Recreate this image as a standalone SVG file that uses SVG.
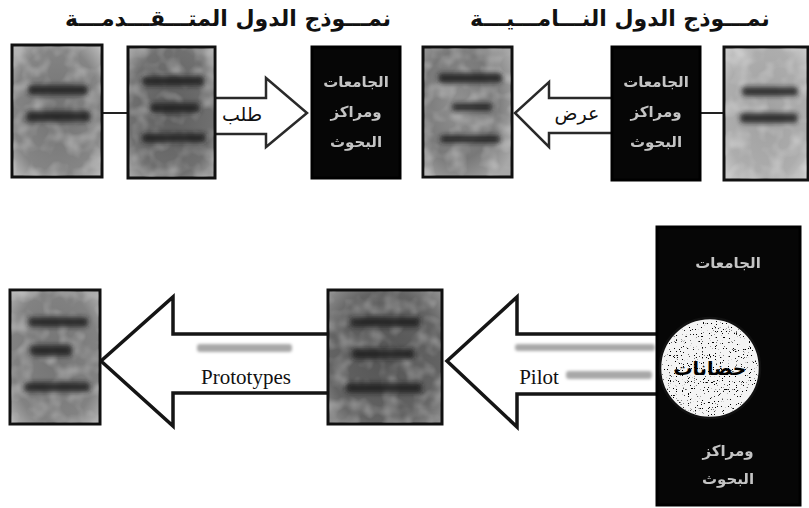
<svg xmlns="http://www.w3.org/2000/svg" width="809" height="508" viewBox="0 0 809 508">
<style>
.title{font-family:"DejaVu Sans",sans-serif;font-weight:bold;font-size:22px;fill:#111;text-anchor:middle}
.lbl{font-family:"DejaVu Sans",sans-serif;font-size:19px;fill:#111;text-anchor:middle}
.en{font-family:"Liberation Serif",serif;font-size:21px;fill:#111;text-anchor:middle}
.box{stroke:#111;stroke-width:3}
.blk{fill:#060606;stroke:#000;stroke-width:3}
.wt{font-family:"DejaVu Sans",sans-serif;font-weight:bold;font-size:15px;fill:#c4c4c4;text-anchor:middle}
.arrow{fill:#fff;stroke:#2a2a2a;stroke-width:2.5;stroke-linejoin:miter}
.arrowB{fill:#fff;stroke:#151515;stroke-width:3.5;stroke-linejoin:miter}
.conn{stroke:#222;stroke-width:2;fill:none}
.sm{fill:#1a1a1a;opacity:0.85;filter:url(#blur2)}
.fa{fill:#a8a8a8;filter:url(#blur)}
</style>
<defs>
<filter id="blur" x="-20%" y="-50%" width="140%" height="200%"><feGaussianBlur stdDeviation="1.6"/></filter>
<filter id="blur2" x="-20%" y="-80%" width="140%" height="260%"><feGaussianBlur stdDeviation="2.4"/></filter>
<filter id="soft" x="-10%" y="-10%" width="120%" height="120%"><feGaussianBlur stdDeviation="0.7"/></filter>
<filter id="speck" x="0" y="0" width="100%" height="100%">
<feTurbulence type="fractalNoise" baseFrequency="0.85" numOctaves="2" seed="5" result="n"/>
<feColorMatrix in="n" type="matrix" values="0 0 0 0 0  0 0 0 0 0  0 0 0 0 0  -16 0 0 0 5.4" result="d"/>
<feComposite in="d" in2="SourceGraphic" operator="in"/>
</filter>
<filter id="mottle" x="0" y="0" width="100%" height="100%">
<feTurbulence type="fractalNoise" baseFrequency="0.06" numOctaves="2" seed="2" result="n"/>
<feColorMatrix in="n" type="matrix" values="0 0 0 0 1  0 0 0 0 1  0 0 0 0 1  0 0 0 0.7 -0.3" result="w"/>
<feComposite in="w" in2="SourceGraphic" operator="in"/>
</filter>
<radialGradient id="gA" cx="50%" cy="50%" r="70%"><stop offset="0" stop-color="#727272"/><stop offset="0.7" stop-color="#858585"/><stop offset="1" stop-color="#c0c0c0"/></radialGradient>
<radialGradient id="gB" cx="50%" cy="50%" r="70%"><stop offset="0" stop-color="#5e5e5e"/><stop offset="0.7" stop-color="#707070"/><stop offset="1" stop-color="#ababab"/></radialGradient>
<radialGradient id="gD" cx="40%" cy="45%" r="70%"><stop offset="0" stop-color="#929292"/><stop offset="0.6" stop-color="#787878"/><stop offset="1" stop-color="#a8a8a8"/></radialGradient>
<radialGradient id="gF" cx="50%" cy="50%" r="70%"><stop offset="0" stop-color="#a0a0a0"/><stop offset="0.7" stop-color="#adadad"/><stop offset="1" stop-color="#cfcfcf"/></radialGradient>
<radialGradient id="gG" cx="50%" cy="50%" r="70%"><stop offset="0" stop-color="#747474"/><stop offset="0.7" stop-color="#828282"/><stop offset="1" stop-color="#b5b5b5"/></radialGradient>
<radialGradient id="gH" cx="50%" cy="50%" r="70%"><stop offset="0" stop-color="#555"/><stop offset="0.7" stop-color="#636363"/><stop offset="1" stop-color="#949494"/></radialGradient>
</defs>
<rect width="809" height="508" fill="#fff"/>

<g id="titles">
<text class="title" x="228" y="26">نمـــوذج الدول المتـــقـــدمـــة</text>
<text class="title" x="620" y="26">نمـــوذج الدول النـــامـــيـــة</text>
</g>

<g id="connectors">
<line class="conn" x1="102" y1="113" x2="128" y2="113"/>
<line class="conn" x1="700" y1="113" x2="724" y2="113"/>
<path id="arrow-request" class="arrow" d="M216,98 L266,98 L266,78 L307,113 L266,147 L266,134 L216,134"/>
<text class="lbl" x="242" y="121">طلب</text>
<path id="arrow-offer" class="arrow" d="M612,98 L549,98 L549,82 L515,113 L549,147 L549,133 L612,133"/>
<text class="lbl" x="577" y="120">عرض</text>
<path id="arrow-prototypes" class="arrowB" d="M328,334 L173,334 L173,297 L101,361 L173,426 L173,393 L328,393"/>
<rect class="fa" x="197" y="344" width="95" height="8" rx="3"/>
<text class="en" x="246" y="384">Prototypes</text>
<path id="arrow-pilot" class="arrowB" d="M657,334 L517,334 L517,297 L447,361 L517,427 L517,394 L657,394"/>
<rect class="fa" x="515" y="344" width="140" height="7" rx="3"/>
<text class="en" x="539" y="384">Pilot</text>
<rect class="fa" x="566" y="371" width="86" height="8" rx="3"/>
</g>

<g id="node-industry">
<rect class="box" x="12" y="45" width="90" height="132" fill="url(#gA)"/>
<rect x="13" y="46" width="88" height="130" fill="#000" filter="url(#mottle)"/>
<rect class="sm" x="28" y="85" width="60" height="10" rx="4"/>
<rect class="sm" x="26" y="111" width="64" height="11" rx="4"/>
</g>
<g id="node-production">
<rect class="box" x="128" y="47" width="87" height="131" fill="url(#gB)"/>
<rect x="129" y="48" width="85" height="129" fill="#000" filter="url(#mottle)"/>
<rect class="sm" x="142" y="76" width="62" height="10" rx="4"/>
<rect class="sm" x="150" y="103" width="50" height="10" rx="4"/>
<rect class="sm" x="142" y="133" width="64" height="10" rx="4"/>
</g>
<g id="node-univ-adv">
<rect class="blk" x="312" y="47" width="88" height="131"/>
<g filter="url(#soft)">
<text class="wt" x="356" y="87">الجامعات</text>
<text class="wt" x="356" y="117">ومراكز</text>
<text class="wt" x="356" y="147">البحوث</text>
</g>
</g>
<g id="node-products">
<rect class="box" x="423" y="47" width="89" height="130" fill="url(#gD)"/>
<rect x="424" y="48" width="87" height="128" fill="#000" filter="url(#mottle)"/>
<rect class="sm" x="438" y="73" width="64" height="10" rx="4"/>
<rect class="sm" x="452" y="103" width="40" height="8" rx="4"/>
<rect class="sm" x="440" y="135" width="60" height="8" rx="4"/>
</g>
<g id="node-univ-dev">
<rect class="blk" x="612" y="47" width="88" height="133"/>
<g filter="url(#soft)">
<text class="wt" x="656" y="87">الجامعات</text>
<text class="wt" x="656" y="117">ومراكز</text>
<text class="wt" x="656" y="147">البحوث</text>
</g>
</g>
<g id="node-state">
<rect class="box" x="724" y="47" width="84" height="133" fill="url(#gF)"/>
<rect x="725" y="48" width="82" height="131" fill="#000" filter="url(#mottle)"/>
<rect class="sm" x="742" y="87" width="56" height="9" rx="4"/>
<rect class="sm" x="740" y="113" width="58" height="10" rx="4"/>
</g>
<g id="node-market">
<rect class="box" x="10" y="290" width="90" height="134" fill="url(#gG)"/>
<rect x="11" y="291" width="88" height="132" fill="#000" filter="url(#mottle)"/>
<rect class="sm" x="28" y="317" width="60" height="10" rx="4"/>
<rect class="sm" x="30" y="345" width="42" height="11" rx="4"/>
<rect class="sm" x="24" y="382" width="66" height="10" rx="4"/>
</g>
<g id="node-companies">
<rect class="box" x="328" y="290" width="114" height="134" fill="url(#gH)"/>
<rect x="329" y="291" width="112" height="132" fill="#000" filter="url(#mottle)"/>
<rect class="sm" x="350" y="317" width="70" height="10" rx="4"/>
<rect class="sm" x="352" y="349" width="62" height="10" rx="4"/>
<rect class="sm" x="346" y="383" width="76" height="10" rx="4"/>
</g>
<g id="node-univ-incubator">
<rect class="blk" x="657" y="227" width="143" height="278"/>
<g filter="url(#soft)">
<text class="wt" x="728" y="268">الجامعات</text>
<text class="wt" x="728" y="456">ومراكز</text>
<text class="wt" x="728" y="484">البحوث</text>
</g>
<circle cx="710" cy="368" r="50" fill="#f4f4f4" stroke="#111" stroke-width="2.5"/>
<circle cx="710" cy="368" r="48" fill="#000" filter="url(#speck)"/>
<text x="710" y="375" font-family="DejaVu Sans, sans-serif" font-weight="bold" font-size="19" fill="#000" text-anchor="middle">حضانات</text>
</g>
</svg>
